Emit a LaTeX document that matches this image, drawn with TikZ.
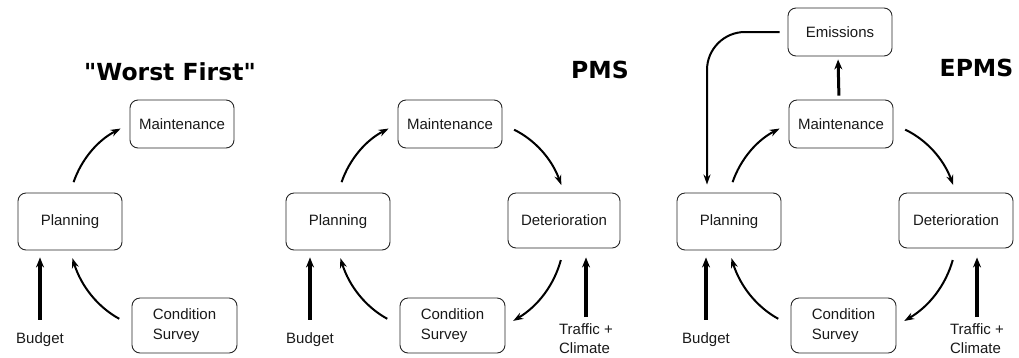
\documentclass[tikz,border=0pt]{standalone}
\usepackage{fontspec}
\usetikzlibrary{arrows.meta}
\newfontfamily\lblfont{Liberation Sans}
\newfontfamily\ttlfont{DejaVu Sans}
\newcommand\labelfnt{\lblfont\fontsize{15}{19.5}\selectfont}
\newcommand\titlefnt{\ttlfont\bfseries\fontsize{23.5}{28}\selectfont}
\tikzset{
  box/.style={draw=black!85, line width=0.9pt, rounded corners=8pt, font=\labelfnt, align=left, inner sep=0pt, text=black!90},
  txt/.style={font=\labelfnt, align=left, inner sep=0pt, text=black!90},
  ttl/.style={font=\titlefnt, inner sep=0pt},
  cyc/.style={line width=2pt, -{Stealth[length=10pt,width=7pt]}},
  feed/.style={line width=3.2pt, -{Stealth[length=10pt,width=8pt]}},
}
\begin{document}
\begin{tikzpicture}[x=1pt,y=1pt]
\useasboundingbox (0,0) rectangle (1019,-357);
% ---------- Panel 1: Worst First ----------
\node[ttl] (t1) at (170,-72) {"Worst First"};
\node[box, minimum width=104pt, minimum height=48pt] (m1) at (182,-124) {Maintenance};
\node[box, minimum width=104pt, minimum height=57pt] (p1) at (70,-221.5) {Planning};
\node[box, minimum width=105pt, minimum height=55pt] (c1) at (184.5,-325.5) {Condition\\Survey};
\node[txt] (b1) at (40,-340) {Budget};
\draw[cyc, shorten <=11pt, shorten >=10pt] (p1.north) to[bend left=22] (m1.west);
\draw[cyc, shorten <=14pt, shorten >=8pt] (c1.west) to[bend left=22] (p1.south);
\draw[feed, shorten <=13pt, shorten >=7pt] (b1.north) -- (b1.north |- p1.south);
% ---------- Panel 2: PMS ----------
\node[ttl] (t2) at (600,-70) {PMS};
\node[box, minimum width=104pt, minimum height=48pt] (m2) at (450,-124) {Maintenance};
\node[box, minimum width=104pt, minimum height=57pt] (p2) at (338,-221.5) {Planning};
\node[box, minimum width=112pt, minimum height=55pt] (d2) at (564,-220.5) {Deterioration};
\node[box, minimum width=105pt, minimum height=55pt] (c2) at (452.5,-325.5) {Condition\\Survey};
\node[txt] (b2) at (310,-340) {Budget};
\node[txt] (tc2) at (586,-338.5) {Traffic +\\Climate};
\draw[cyc, shorten <=11pt, shorten >=10pt] (p2.north) to[bend left=22] (m2.west);
\draw[cyc, shorten <=13pt, shorten >=8pt] (m2.east) to[bend left=22] (d2.north);
\draw[cyc, shorten <=12pt, shorten >=9pt] (d2.south) to[bend left=22] (c2.east);
\draw[cyc, shorten <=14pt, shorten >=8pt] (c2.west) to[bend left=22] (p2.south);
\draw[feed, shorten <=13pt, shorten >=7pt] (b2.north) -- (b2.north |- p2.south);
\draw[feed, shorten <=6pt, shorten >=9pt] (tc2.north) -- (tc2.north |- d2.south);
% ---------- Panel 3: EPMS ----------
\node[ttl] (t3) at (976.5,-68) {EPMS};
\node[box, minimum width=104pt, minimum height=48pt] (e3) at (840,-32) {Emissions};
\node[box, minimum width=104pt, minimum height=48pt] (m3) at (841,-124) {Maintenance};
\node[box, minimum width=104pt, minimum height=57pt] (p3) at (729,-221.5) {Planning};
\node[box, minimum width=114pt, minimum height=55pt] (d3) at (956,-220.5) {Deterioration};
\node[box, minimum width=105pt, minimum height=55pt] (c3) at (843.5,-325.5) {Condition\\Survey};
\node[txt] (b3) at (706,-340) {Budget};
\node[txt] (tc3) at (977,-338.5) {Traffic +\\Climate};
\draw[cyc, shorten <=11pt, shorten >=10pt] (p3.north) to[bend left=22] (m3.west);
\draw[cyc, shorten <=13pt, shorten >=8pt] (m3.east) to[bend left=22] (d3.north);
\draw[cyc, shorten <=12pt, shorten >=9pt] (d3.south) to[bend left=22] (c3.east);
\draw[cyc, shorten <=14pt, shorten >=8pt] (c3.west) to[bend left=22] (p3.south);
\draw[feed, shorten <=13pt, shorten >=7pt] (b3.north) -- (b3.north |- p3.south);
\draw[feed, shorten <=6pt, shorten >=9pt] (tc3.north) -- (tc3.north |- d3.south);
\draw[feed, line width=3pt, shorten <=4pt, shorten >=3pt] ([xshift=-2pt]m3.north) -- ([xshift=-2pt]e3.south);
\draw[cyc, rounded corners=38pt, shorten <=8pt, shorten >=8pt] (e3.west) -| ([xshift=-22pt]p3.north);
\end{tikzpicture}
\end{document}
